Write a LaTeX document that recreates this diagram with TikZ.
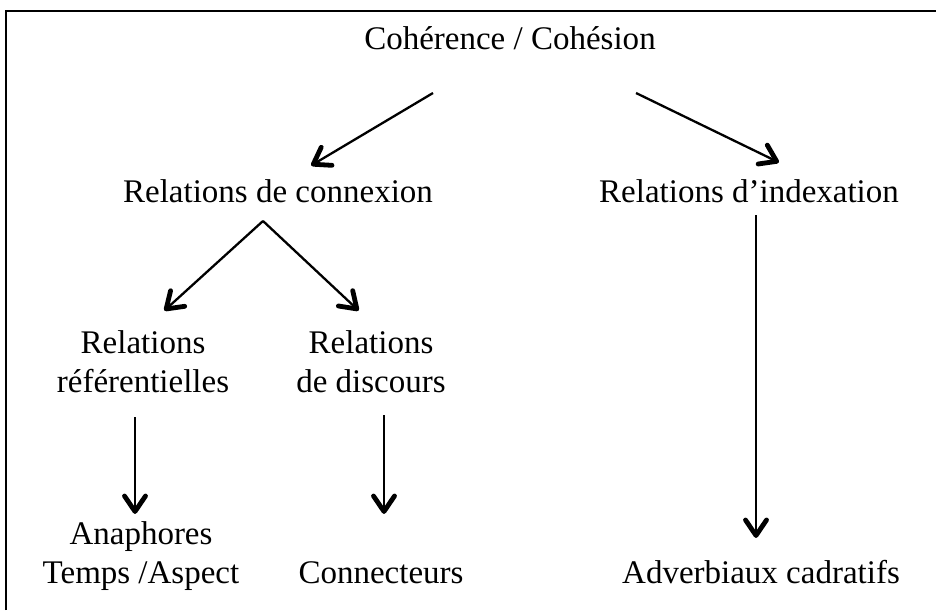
\documentclass[tikz,border=0pt]{standalone}
\usepackage{fontspec}
\setmainfont{Liberation Serif}
\usetikzlibrary{calc,decorations.markings}
\begin{document}
\begin{tikzpicture}[x=1pt,y=-1pt,
  lbl/.style={inner sep=0pt,outer sep=0pt,anchor=base,font=\fontsize{33}{39}\selectfont,align=center},
  arr/.style={line width=2.3pt,postaction={decorate},decoration={markings,
     mark=at position 1 with {\draw[line width=4.8pt,line cap=round,line join=round] (-17,10.5) -- (-1.5,0) -- (-17,-10.5);}}},
  frame/.style={line width=2.5pt}]
\useasboundingbox (0,0) rectangle (936,610);
\draw[frame] (6,610) -- (6,11) -- (936,11);
\node[lbl] (title) at (510,50) {Cohérence / Cohésion};
\node[lbl] (conn) at (278,202) {Relations de connexion};
\node[lbl] (idx) at (749,202) {Relations d’indexation};
\node[lbl] (ref) at (143,392) {Relations\\référentielles};
\node[lbl] (disc) at (371,392) {Relations\\de discours};
\node[lbl] (ana) at (141,583) {Anaphores\\Temps /Aspect};
\node[lbl] (con) at (381,583) {Connecteurs};
\node[lbl] (adv) at (761,583) {Adverbiaux cadratifs};
\draw[arr] ($(title.base)+(-77,43)$) -- ($(conn.base)+(34,-37)$);
\draw[arr] ($(title.base)+(126,43)$) -- ($(idx.base)+(29,-40)$);
\draw[arr] ($(conn.base)+(-15,19)$) -- ($(ref.base)+(22,-82)$);
\draw[arr] ($(conn.base)+(-15,19)$) -- ($(disc.base)+(-13,-82)$);
\draw[arr] ($(ref.base)+(-8,25)$) -- ($(ana.base)+(-6,-70)$);
\draw[arr] ($(disc.base)+(13,23)$) -- ($(con.base)+(3,-70)$);
\draw[arr] ($(idx.base)+(7,13)$) -- ($(adv.base)+(-5,-46)$);
\end{tikzpicture}
\end{document}
